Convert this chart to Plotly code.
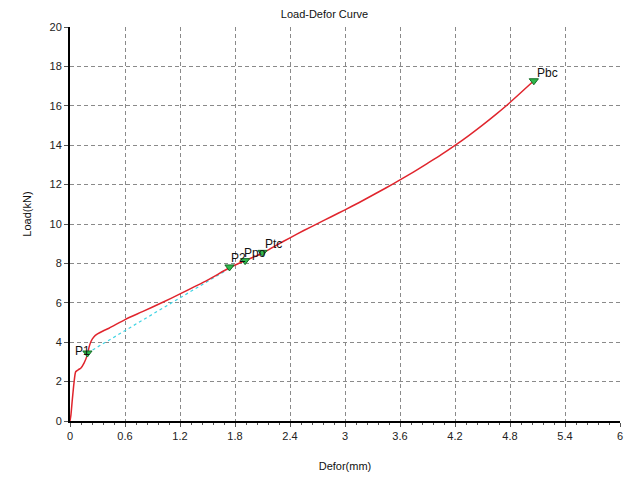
import plotly.graph_objects as go

# Load-deformation curve
defor = [0, 0.01, 0.025, 0.044, 0.062, 0.09, 0.117, 0.153, 0.19, 0.208, 0.23, 0.26, 0.3,
         0.36, 0.426, 0.6, 0.79, 1.0, 1.2, 1.5, 1.74, 1.91, 2.1, 2.25, 2.4, 2.55, 2.7, 2.85,
         3.0, 3.15, 3.3, 3.45, 3.6, 3.75, 3.9, 4.05, 4.2, 4.35, 4.5, 4.65, 4.8, 5.06]
load = [0, 0.3, 1.07, 1.95, 2.5, 2.6, 2.68, 2.94, 3.37, 3.75, 4.05, 4.27, 4.42,
        4.57, 4.71, 5.15, 5.55, 6.0, 6.45, 7.15, 7.78, 8.14, 8.52, 8.92, 9.3, 9.67, 10.02, 10.37,
        10.72, 11.08, 11.46, 11.84, 12.24, 12.65, 13.08, 13.52, 13.99, 14.49, 15.02, 15.58, 16.17, 17.27]

# Characteristic points
pt_names = ["P1", "P2", "Ppo", "Ptc", "Pbc"]
pt_x = [0.19, 1.74, 1.91, 2.10, 5.06]
pt_y = [3.45, 7.82, 8.14, 8.56, 17.27]

# Secant (dashed cyan) line from P1 to P2
sec_x = [0.19, 1.74]
sec_y = [3.45, 7.75]

x_ticks = [0, 0.6, 1.2, 1.8, 2.4, 3, 3.6, 4.2, 4.8, 5.4, 6]
x_tick_text = ["0", "0.6", "1.2", "1.8", "2.4", "3", "3.6", "4.2", "4.8", "5.4", "6"]
y_ticks = [0, 2, 4, 6, 8, 10, 12, 14, 16, 18, 20]

FONT = "Liberation Sans, Arial, sans-serif"

fig = go.Figure()
fig.add_trace(go.Scatter(x=sec_x, y=sec_y, mode="lines",
                         line=dict(color="#3fd3e3", width=1.2, dash="3px,3px"),
                         showlegend=False, hoverinfo="skip"))
fig.add_trace(go.Scatter(x=defor, y=load, mode="lines",
                         line=dict(color="#e0252d", width=1.5, shape="spline", smoothing=0.6),
                         showlegend=False))
fig.add_trace(go.Scatter(x=pt_x, y=pt_y, mode="markers",
                         marker=dict(symbol="triangle-down", size=8, color="#2fb84a",
                                     line=dict(color="#146b26", width=1)),
                         showlegend=False))

# label offsets (pixels)
offs = {"P1": ("right", 5, 2), "P2": ("left", -1, 9), "Ppo": ("left", -3, 8),
        "Ptc": ("left", 0, 8), "Pbc": ("left", 1, 7.5)}
for n, x, y in zip(pt_names, pt_x, pt_y):
    anc, xs, ys = offs[n]
    fig.add_annotation(x=x, y=y, text=n, showarrow=False, xanchor=anc, yanchor="middle",
                       xshift=xs, yshift=ys, font=dict(family=FONT, size=12, color="#111"))

# y-axis title as annotation (sits slightly above plot centre in the reference)
fig.add_annotation(xref="paper", yref="paper", x=-0.0773, y=0.525, text="Load(kN)",
                   textangle=-90, showarrow=False, xanchor="center", yanchor="middle",
                   font=dict(family=FONT, size=11, color="#111"))

grid = dict(showgrid=True, gridcolor="#8a8a8a", griddash="4px,3px", gridwidth=1)
fig.update_xaxes(range=[0, 6], tickvals=x_ticks, ticktext=x_tick_text, **grid,
                 showline=True, linecolor="black", linewidth=2, zeroline=False,
                 ticks="outside", ticklen=4, tickcolor="#555", automargin=False,
                 minor=dict(dtick=0.12, ticks="outside", ticklen=2, tickcolor="#555", showgrid=False),
                 tickfont=dict(family=FONT, size=11, color="#222"),
                 title=dict(text="Defor(mm)", font=dict(family=FONT, size=11, color="#111"), standoff=21))
fig.update_yaxes(range=[0, 20], tickvals=y_ticks, **grid,
                 showline=True, linecolor="black", linewidth=2, zeroline=False,
                 ticks="outside", ticklen=4, tickcolor="#555", automargin=False,
                 tickfont=dict(family=FONT, size=11, color="#222"))

# page body has an 8px margin: size figure so plot area lands at x 70-620, y 27-421
fig.update_layout(
    width=633, height=471,
    margin=dict(l=62, r=21, t=19, b=58, autoexpand=False),
    plot_bgcolor="white", paper_bgcolor="white",
    title=dict(text="Load-Defor Curve", x=0.5, xanchor="center", y=0.987, yanchor="middle",
               font=dict(family=FONT, size=11, color="#111"), automargin=False),
)

fig.write_html("out.html")
